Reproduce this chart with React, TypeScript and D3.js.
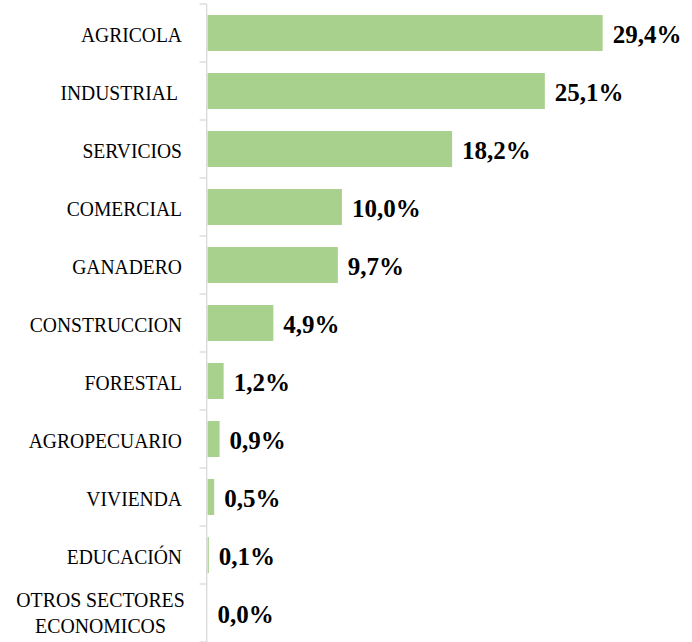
import React, { useEffect, useRef } from "react";
import * as d3 from "d3";

const categories: string[][] = [
  ["AGRICOLA"],
  ["INDUSTRIAL "],
  ["SERVICIOS"],
  ["COMERCIAL"],
  ["GANADERO"],
  ["CONSTRUCCION"],
  ["FORESTAL"],
  ["AGROPECUARIO"],
  ["VIVIENDA"],
  ["EDUCACIÓN"],
  ["OTROS SECTORES", "ECONOMICOS"],
];
const values: number[] = [29.4, 25.1, 18.2, 10.0, 9.7, 4.9, 1.2, 0.9, 0.5, 0.1, 0.0];
const valueLabels: string[] = ["29,4%", "25,1%", "18,2%", "10,0%", "9,7%", "4,9%", "1,2%", "0,9%", "0,5%", "0,1%", "0,0%"];

const W = 692;
const H = 642;

export default function App() {
  const ref = useRef<SVGSVGElement>(null);
  useEffect(() => {
    const svg = d3.select(ref.current);
    svg.selectAll("*").remove();
    const keys = categories.map((c) => c.join(" "));
    const y = d3.scaleBand<string>().domain(keys).range([4, 642]).paddingInner(0.38).paddingOuter(0.19);
    const x = d3.scaleLinear().domain([0, 30]).range([207.5, 610.7]);
    const step = y.step();
    const halfGap = (step - y.bandwidth()) / 2;

    // bars
    svg.append("g").selectAll("rect").data(values).join("rect")
      .attr("x", x(0))
      .attr("y", (_, i) => y(keys[i])!)
      .attr("width", (d) => x(d) - x(0))
      .attr("height", y.bandwidth())
      .attr("fill", "#a9d18e");

    // axis line and ticks
    const axis = svg.append("g").attr("stroke", "#d9d9d9").attr("stroke-width", 1.3);
    axis.append("line").attr("x1", 206.7).attr("x2", 206.7).attr("y1", 4).attr("y2", 642);
    const tickYs = keys.map((k) => y(k)! - halfGap).concat([y(keys[keys.length - 1])! + y.bandwidth() + halfGap]);
    axis.selectAll("line.t").data(tickYs).join("line").attr("class", "t")
      .attr("x1", 199.5).attr("x2", 206.7).attr("y1", (d) => d).attr("y2", (d) => d);

    // category labels
    const lab = svg.append("g").attr("font-family", "'Liberation Serif', 'Times New Roman', serif")
      .attr("font-size", 22).attr("fill", "#000");
    categories.forEach((lines, i) => {
      const c = y(keys[i])! + y.bandwidth() / 2;
      if (lines.length === 1) {
        lab.append("text")
          .attr("transform", `translate(182,${c + 9.3}) scale(0.89,1)`)
          .attr("text-anchor", "end")
          .style("white-space", "pre")
          .text(lines[0]);
      } else {
        lab.append("text")
          .attr("transform", `translate(100.5,${c - 6}) scale(0.9,1)`)
          .attr("text-anchor", "middle")
          .text(lines[0]);
        lab.append("text")
          .attr("transform", `translate(100.5,${c + 20}) scale(0.9,1)`)
          .attr("text-anchor", "middle")
          .text(lines[1]);
      }
    });

    // value labels
    svg.append("g").attr("font-family", "'Liberation Serif', 'Times New Roman', serif")
      .attr("font-size", 25).attr("font-weight", "bold").attr("fill", "#000")
      .selectAll("text").data(values).join("text")
      .attr("x", (d) => x(d) + 10)
      .attr("y", (_, i) => y(keys[i])! + y.bandwidth() / 2 + 10)
      .text((_, i) => valueLabels[i]);
  }, []);
  return (
    <div style={{ position: "absolute", left: 0, top: 0 }}>
      <svg ref={ref} width={W} height={H} style={{ display: "block", background: "#fff" }} />
    </div>
  );
}
